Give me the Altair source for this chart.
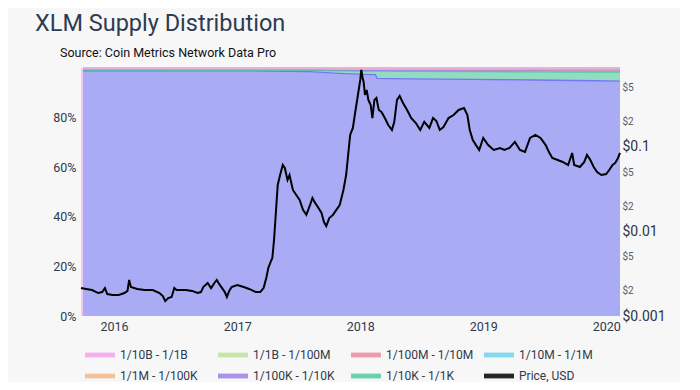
import altair as alt
import pandas as pd

# ---------------- data ----------------
bands = ["1/10B - 1/1B", "1/1B - 1/100M", "1/100M - 1/10M", "1/10M - 1/1M",
         "1/1M - 1/100K", "1/100K - 1/10K", "1/10K - 1/1K", "1/1K+"]
legend_order = bands[:7] + ["Price, USD", bands[7]]
legend_colors = ["#f4a3ee", "#bfe39c", "#ee8aa2", "#6fd2ea",
                 "#f2b88a", "#9f80e8", "#4fcb9f", "#000000", "#7478f4"]
# stacking order from the bottom up
stack_order = ["1/1K+", "1/10K - 1/1K", "1/100K - 1/10K", "1/1M - 1/100K",
               "1/10M - 1/1M", "1/100M - 1/10M", "1/1B - 1/100M", "1/10B - 1/1B"]

# first days of the record: the whole supply sits in the 1/10B - 1/1B band
early_dates = ["2015-09-25", "2015-10-01"]
early_share = [1.0, 1.0]

band_dates = ["2015-10-01", "2016-04-01", "2016-10-01",
              "2017-04-01", "2017-08-01", "2017-11-01", "2018-01-15", "2018-02-15",
              "2018-02-20", "2018-06-01", "2018-12-01", "2019-06-01", "2019-12-01",
              "2020-02-11"]
share_1k_plus = [98.9, 98.9, 98.8, 98.7, 98.4, 97.8, 97.4, 97.3, 95.9, 95.7, 95.5, 95.2, 94.9, 94.7]
share_10k_1k = [0.30, 0.30, 0.35, 0.40, 0.60, 1.10, 1.40, 1.50, 2.90, 3.00, 3.10, 3.30, 3.50, 3.60]
share_100k_10k = [0.25, 0.25, 0.25, 0.25, 0.30, 0.35, 0.40, 0.40, 0.45, 0.50, 0.55, 0.60, 0.60, 0.60]
share_1m_100k = [0.20, 0.20, 0.20, 0.20, 0.25, 0.30, 0.30, 0.30, 0.30, 0.30, 0.30, 0.30, 0.35, 0.35]
share_10m_1m = [0.15, 0.15, 0.15, 0.15, 0.15, 0.20, 0.20, 0.20, 0.20, 0.25, 0.25, 0.25, 0.30, 0.30]
share_100m_10m = [0.10, 0.10, 0.10, 0.10, 0.10, 0.15, 0.20, 0.20, 0.20, 0.20, 0.25, 0.30, 0.30, 0.30]
share_1b_100m = [0.05, 0.05, 0.05, 0.05, 0.05, 0.05, 0.05, 0.05, 0.05, 0.05, 0.05, 0.05, 0.05, 0.05]
share_10b_1b = [0.05, 0.05, 0.05, 0.05, 0.05, 0.05, 0.05, 0.05, 0.05, 0.05, 0.05, 0.05, 0.05, 0.05]

price_dates = ["2015-09-25", "2015-10-10", "2015-10-28", "2015-11-15", "2015-11-27", "2015-12-05",
               "2015-12-12", "2015-12-28", "2016-01-15", "2016-02-01", "2016-02-10", "2016-02-15",
               "2016-02-20", "2016-03-10", "2016-04-01", "2016-04-25", "2016-05-15", "2016-05-25",
               "2016-06-01", "2016-06-10", "2016-06-20", "2016-06-28", "2016-07-05", "2016-08-01",
               "2016-08-20", "2016-09-05", "2016-09-15", "2016-09-22", "2016-10-05", "2016-10-15",
               "2016-10-25", "2016-11-01", "2016-11-10", "2016-11-25", "2016-12-01", "2016-12-08",
               "2016-12-15", "2017-01-01", "2017-01-20", "2017-02-05", "2017-02-25", "2017-03-10",
               "2017-03-20", "2017-03-28", "2017-04-03", "2017-04-10", "2017-04-15", "2017-04-20",
               "2017-04-25", "2017-05-01", "2017-05-08", "2017-05-16", "2017-05-22", "2017-05-30",
               "2017-06-05", "2017-06-15", "2017-06-25", "2017-07-05", "2017-07-15", "2017-07-25",
               "2017-08-05", "2017-08-12", "2017-08-20", "2017-08-30", "2017-09-08", "2017-09-15",
               "2017-09-22", "2017-10-01", "2017-10-12", "2017-10-22", "2017-11-01", "2017-11-12",
               "2017-11-20", "2017-11-26", "2017-12-02", "2017-12-10", "2017-12-18", "2017-12-25",
               "2018-01-01", "2018-01-04", "2018-01-08", "2018-01-11", "2018-01-15", "2018-01-20",
               "2018-01-25", "2018-02-01", "2018-02-06", "2018-02-12", "2018-02-18", "2018-02-25",
               "2018-03-05", "2018-03-15", "2018-03-25", "2018-04-05", "2018-04-12", "2018-04-20",
               "2018-04-28", "2018-05-08", "2018-05-20", "2018-06-01", "2018-06-15", "2018-06-28",
               "2018-07-10", "2018-07-25", "2018-08-05", "2018-08-15", "2018-08-25", "2018-09-05",
               "2018-09-20", "2018-10-05", "2018-10-20", "2018-11-05", "2018-11-15", "2018-11-22",
               "2018-12-01", "2018-12-10", "2018-12-20", "2019-01-01", "2019-01-15", "2019-02-01",
               "2019-02-20", "2019-03-05", "2019-03-20", "2019-04-05", "2019-04-20", "2019-05-05",
               "2019-05-20", "2019-06-05", "2019-06-20", "2019-07-05", "2019-07-15", "2019-07-25",
               "2019-08-10", "2019-08-25", "2019-09-10", "2019-09-22", "2019-09-28", "2019-10-15",
               "2019-10-28", "2019-11-05", "2019-11-15", "2019-11-25", "2019-12-05", "2019-12-18",
               "2020-01-01", "2020-01-10", "2020-01-20", "2020-01-28", "2020-02-05", "2020-02-11"]
price_usd = [0.00214, 0.00209, 0.00203, 0.00187, 0.00192, 0.00214,
             0.00182, 0.00177, 0.00177, 0.00187, 0.00198, 0.00267,
             0.00220, 0.00209, 0.00203, 0.00203, 0.00187, 0.00172,
             0.00150, 0.00163, 0.00168, 0.00214, 0.00203, 0.00203,
             0.00198, 0.00187, 0.00192, 0.00220, 0.00246, 0.00214,
             0.00246, 0.00267, 0.00233, 0.00192, 0.00168, 0.00198,
             0.00220, 0.00233, 0.00220, 0.00209, 0.00192, 0.00192,
             0.00214, 0.00282, 0.00370, 0.00436, 0.00486, 0.00793,
             0.0157, 0.0355, 0.0466, 0.0612, 0.0564, 0.0407,
             0.0466, 0.0310, 0.0270, 0.0236, 0.0180, 0.0157,
             0.0206, 0.0249, 0.0218, 0.0190, 0.0166, 0.0130,
             0.0116, 0.0144, 0.0157, 0.0180, 0.0206, 0.0310,
             0.0466, 0.0804, 0.139, 0.168, 0.274, 0.412,
             0.621, 0.815, 0.655, 0.588, 0.412, 0.473,
             0.360, 0.314, 0.220, 0.360, 0.380, 0.274,
             0.260, 0.220, 0.182, 0.159, 0.198, 0.360,
             0.401, 0.332, 0.274, 0.220, 0.192, 0.159,
             0.198, 0.168, 0.220, 0.203, 0.159, 0.172,
             0.220, 0.239, 0.274, 0.289, 0.239, 0.159,
             0.121, 0.106, 0.0922, 0.128, 0.106, 0.0922,
             0.0973, 0.0922, 0.0973, 0.115, 0.0922, 0.0873,
             0.128, 0.139, 0.128, 0.106, 0.0873, 0.0741,
             0.0702, 0.0665, 0.0612, 0.0849, 0.0612, 0.0580,
             0.0665, 0.0804, 0.0702, 0.0580, 0.0506, 0.0466,
             0.0479, 0.0534, 0.0612, 0.0647, 0.0741, 0.0849]

price_ticks = [0.001, 0.002, 0.005, 0.01, 0.02, 0.05, 0.1, 0.2, 0.5]
pct_ticks = [0, 0.2, 0.4, 0.6, 0.8]
year_ticks = [2016, 2017, 2018, 2019, 2020]

title_text = "XLM Supply Distribution"
subtitle_text = "Source: Coin Metrics Network Data Pro"

# ---------------- tables ----------------
share_lists = {
    "1/1K+": share_1k_plus,
    "1/10K - 1/1K": share_10k_1k,
    "1/100K - 1/10K": share_100k_10k,
    "1/1M - 1/100K": share_1m_100k,
    "1/10M - 1/1M": share_10m_1m,
    "1/100M - 1/10M": share_100m_10m,
    "1/1B - 1/100M": share_1b_100m,
    "1/10B - 1/1B": share_10b_1b,
}
rows = []
for band in stack_order:
    for d, v in zip(band_dates, share_lists[band]):
        rows.append({"date": d, "band": band, "share": v, "rank": stack_order.index(band)})
band_df = pd.DataFrame(rows)
early_df = pd.DataFrame({"date": early_dates, "share": early_share, "band": bands[0]})
price_df = pd.DataFrame({"date": price_dates, "price": price_usd})
title_df = pd.DataFrame({"t": [title_text]})
sub_df = pd.DataFrame({"t": [subtitle_text]})

FONT = "Roboto"
TXT = "#2f3a4e"

x_scale = alt.Scale(domain=[alt.DateTime(year=2015, month=9, date=25, utc=True),
                            alt.DateTime(year=2020, month=2, date=11, utc=True)])
x_axis = alt.Axis(values=[alt.DateTime(year=y, month=1, date=1, utc=True) for y in year_ticks],
                  labelExpr="utcFormat(datum.value, '%Y')", title=None, grid=False,
                  ticks=False, domain=False, labelFont=FONT, labelFontSize=12.5,
                  labelColor=TXT, labelPadding=4, labelFlush=False)
pct_axis = alt.Axis(values=pct_ticks, format=".0%", title=None, grid=False,
                    ticks=False, domain=False, labelFont=FONT, labelFontSize=12.5,
                    labelColor=TXT, labelPadding=5, labelFlush=False)
color_scale = alt.Scale(domain=legend_order, range=legend_colors)
legend = alt.Legend(orient="none", legendX=4, legendY=272,
                    direction="horizontal", columns=4, title=None,
                    symbolType="M-1,-0.16H1V0.16H-1Z", symbolSize=900,
                    symbolOpacity=0.85, symbolStrokeWidth=0,
                    labelFont=FONT, labelFontSize=12, labelColor=TXT,
                    labelOffset=5, columnPadding=10, rowPadding=-12,
                    gridAlign="all", labelLimit=300)

area = alt.Chart(band_df).mark_area(
    fillOpacity=0.6, interpolate="linear",
    line=alt.OverlayMarkDef(strokeWidth=1.3)
).encode(
    x=alt.X("date:T", scale=x_scale, axis=x_axis),
    y=alt.Y("share:Q", stack="normalize", scale=alt.Scale(domain=[0, 1], nice=False), axis=pct_axis),
    color=alt.Color("band:N", scale=color_scale, legend=legend),
    order=alt.Order("rank:Q"),
)

early = alt.Chart(early_df).mark_area(fillOpacity=0.6, interpolate="linear").encode(
    x=alt.X("date:T", scale=x_scale, axis=x_axis),
    y=alt.Y("share:Q", stack=None, scale=alt.Scale(domain=[0, 1], nice=False), axis=pct_axis),
    color=alt.Color("band:N", scale=color_scale, legend=legend),
)

price_labels = ("(datum.value == 0.001 || datum.value == 0.01 || datum.value == 0.1) ? "
                "'$' + datum.value : "
                "'$' + round(datum.value / pow(10, floor(log(datum.value) / LN10 + 1e-9)))")
major_test = "datum.value == 0.001 || datum.value == 0.01 || datum.value == 0.1"

line = alt.Chart(price_df).mark_line(color="black", strokeWidth=2).encode(
    x=alt.X("date:T", scale=x_scale, axis=x_axis),
    y=alt.Y("price:Q",
            scale=alt.Scale(type="log", domain=[0.001, 0.86], nice=False),
            axis=alt.Axis(orient="right", values=price_ticks, labelExpr=price_labels,
                          title=None, grid=False, ticks=False, domain=False,
                          labelFont=FONT, labelPadding=2, labelFlush=False,
                          labelFontSize={"condition": {"test": major_test, "value": 14}, "value": 10},
                          labelColor={"condition": {"test": major_test, "value": "#2b3447"}, "value": "#555c6a"})),
)

title = alt.Chart(title_df).mark_text(
    align="left", baseline="alphabetic", font=FONT, fontSize=23.5, color="#2e3b51"
).encode(x=alt.value(-46), y=alt.value(-37), text="t:N")

subtitle = alt.Chart(sub_df).mark_text(
    align="left", baseline="alphabetic", font=FONT, fontSize=12.5, color="#111111"
).encode(x=alt.value(-21), y=alt.value(-11), text="t:N")

shares = alt.layer(area, early)

chart = alt.layer(shares, line, title, subtitle).resolve_scale(y="independent").properties(
    width=539, height=248,
    autosize=alt.AutoSizeParams(type="none"),
    padding={"left": 73, "top": 60, "right": 60, "bottom": 66},
    background="#f7f7f7",
).configure_view(stroke=None)

chart.save("out.html", embed_options={"renderer": "svg", "actions": False})
